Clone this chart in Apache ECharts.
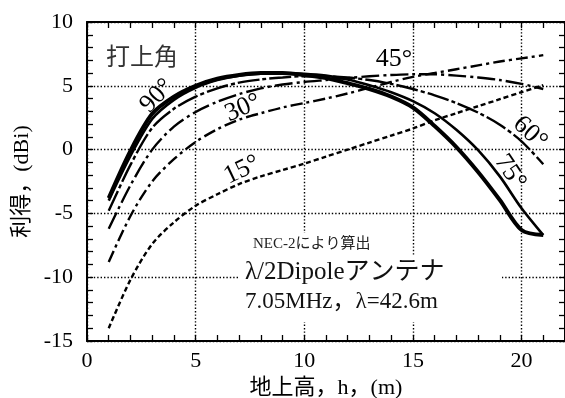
<!DOCTYPE html>
<html>
<head>
<meta charset="utf-8">
<script src="https://cdn.jsdelivr.net/npm/echarts@6/dist/echarts.min.js"></script>
<style>
	html, body { margin: 0; padding: 0; background: #fff; }
	#chart { width: 565px; height: 398px; }
</style>
</head>
<body>
<div id="chart"></div>
<script>
// 地上高 (m)
const heights = [1, 2, 3, 4, 5, 6, 7, 8, 9, 10, 11, 12, 13, 14, 15, 16, 17, 18, 19, 20, 21];
// 打上角ごとの利得 (dBi)
const gain15 = [-14.0, -10.2, -7.4, -5.7, -4.4, -3.5, -2.7, -2.1, -1.6, -1.1, -0.55, 0.0, 0.55, 1.1, 1.65, 2.3, 2.85, 3.4, 3.95, 4.5, 5.05];
const gain30 = [-8.8, -5.2, -2.5, -0.75, 0.6, 1.6, 2.35, 2.85, 3.3, 3.65, 4.0, 4.4, 4.85, 5.3, 5.7, 6.0, 6.3, 6.6, 6.9, 7.15, 7.4];
const gain45 = [-6.2, -2.8, 0.0, 1.8, 2.95, 3.75, 4.35, 4.8, 5.1, 5.3, 5.45, 5.6, 5.75, 5.85, 5.9, 5.9, 5.8, 5.65, 5.45, 5.15, 4.75];
const gain60 = [-4.8, -1.2, 1.7, 3.2, 4.15, 4.8, 5.25, 5.5, 5.65, 5.75, 5.75, 5.65, 5.45, 5.15, 4.75, 4.25, 3.65, 2.9, 1.95, 0.65, -1.15];
const gain75 = [-4.0, -0.5, 2.4, 3.9, 4.85, 5.45, 5.8, 5.95, 6.0, 5.95, 5.8, 5.5, 5.05, 4.5, 3.8, 2.85, 1.55, -0.05, -2.1, -4.6, -6.7];
const gain90 = [-3.8, -0.1, 2.8, 4.15, 5.0, 5.55, 5.85, 6.0, 6.0, 5.85, 5.6, 5.2, 4.75, 4.15, 3.3, 1.85, 0.2, -1.75, -3.95, -6.3, -6.7];

const xTickLabels = [0, 5, 10, 15, 20];
const yTickLabels = [-15, -10, -5, 0, 5, 10];

const serif = "'Liberation Serif', 'Noto Sans CJK JP', serif";

function pairs(ys) {
	return heights.map((h, i) => [h, ys[i]]);
}

function makeLine(name, ys, width, dash) {
	return {
		name: name,
		type: 'line',
		xAxisIndex: 0,
		yAxisIndex: 0,
		smooth: 0.3,
		symbol: 'none',
		lineStyle: { color: '#000', width: width, type: dash },
		data: pairs(ys)
	};
}

function initChart(){
	let myChart = echarts.init(document.getElementById('chart'));

	let tick = { show: true, inside: true, length: 6, lineStyle: { color: '#000', width: 1.3 } };
	let dotted = { show: true, lineStyle: { color: '#000', width: 1.4, type: [1.4, 2] } };

	let option = {
		animation: false,
		grid: { left: 87, right: 0, top: 22, bottom: 57, outerBoundsMode: 'none' },
		xAxis: [
			{
				// 目盛り数字と軸線 (1m刻みの目盛り)
				type: 'value', min: 0, max: 22, interval: 1, position: 'bottom',
				name: '地上高，h，(m)', nameLocation: 'middle', nameGap: 33,
				nameTextStyle: { fontFamily: serif, fontSize: 22, color: '#000' },
				axisLine: { onZero: false, lineStyle: { color: '#000', width: 2 } },
				axisTick: tick,
				axisLabel: {
					margin: 9, fontFamily: serif, fontSize: 22, color: '#000',
					formatter: v => xTickLabels.indexOf(v) >= 0 ? String(v) : ''
				},
				splitLine: { show: false }
			},
			{
				// 上側の軸
				type: 'value', min: 0, max: 22, interval: 1, position: 'top',
				axisLine: { onZero: false, lineStyle: { color: '#000', width: 2 } },
				axisTick: tick,
				axisLabel: { show: false },
				splitLine: { show: false }
			},
			{
				// 5m毎の点線
				type: 'value', min: 0, max: 22, interval: 5, position: 'bottom',
				axisLine: { show: false, onZero: false },
				axisTick: { show: false },
				axisLabel: { show: false },
				splitLine: dotted
			}
		],
		yAxis: [
			{
				type: 'value', min: -15, max: 10, interval: 5, position: 'left',
				name: '利得，(dBi)', nameLocation: 'middle', nameGap: 53, nameRotate: 90,
				nameTextStyle: { fontFamily: serif, fontSize: 22, color: '#000' },
				axisLine: { onZero: false, lineStyle: { color: '#000', width: 2 } },
				axisTick: tick,
				minorTick: { show: true, splitNumber: 5, length: 6, lineStyle: { color: '#000', width: 1.3 } },
				axisLabel: {
					margin: 14, fontFamily: serif, fontSize: 22, color: '#000',
					formatter: v => yTickLabels.indexOf(v) >= 0 ? String(v) : ''
				},
				splitLine: dotted
			},
			{
				type: 'value', min: -15, max: 10, interval: 5, position: 'right',
				axisLine: { onZero: false, lineStyle: { color: '#000', width: 2 } },
				axisTick: tick,
				minorTick: { show: true, splitNumber: 5, length: 6, lineStyle: { color: '#000', width: 1.3 } },
				axisLabel: { show: false },
				splitLine: { show: false }
			}
		],
		graphic: [
			{ type: 'rect', z: 1, shape: { x: 250, y: 233, width: 156, height: 23 }, style: { fill: '#fff' } },
			{ type: 'rect', z: 1, shape: { x: 240, y: 256, width: 262, height: 66 }, style: { fill: '#fff' } },
			{ type: 'text', z: 3, left: 106, top: 44, style: { text: '打上角', font: "24px 'Noto Sans CJK JP'", fill: '#333' } },
			{ type: 'text', z: 3, left: 253, top: 237, style: { text: 'NEC-2により算出', font: "15px " + serif, fill: '#222' } },
			{ type: 'text', z: 3, left: 245, top: 260, style: { text: 'λ/2Dipoleアンテナ', font: "25px " + serif, fill: '#111' } },
			{ type: 'text', z: 3, left: 245, top: 290, style: { text: '7.05MHz，λ=42.6m', font: "23px " + serif, fill: '#111' } },
			{ type: 'text', z: 3, x: 157, y: 96, rotation: 0.8, style: { text: '90°', font: "26px " + serif, fill: '#000', align: 'center', verticalAlign: 'middle' } },
			{ type: 'text', z: 3, x: 243, y: 108, rotation: 0.4, style: { text: '30°', font: "26px " + serif, fill: '#000', align: 'center', verticalAlign: 'middle' } },
			{ type: 'text', z: 3, x: 242, y: 170, rotation: 0.45, style: { text: '15°', font: "26px " + serif, fill: '#000', align: 'center', verticalAlign: 'middle' } },
			{ type: 'text', z: 3, x: 394, y: 59, rotation: 0, style: { text: '45°', font: "26px " + serif, fill: '#000', align: 'center', verticalAlign: 'middle' } },
			{ type: 'text', z: 3, x: 530, y: 133, rotation: -0.75, style: { text: '60°', font: "26px " + serif, fill: '#000', align: 'center', verticalAlign: 'middle' } },
			{ type: 'text', z: 3, x: 510, y: 172, rotation: -0.98, style: { text: '75°', font: "26px " + serif, fill: '#000', align: 'center', verticalAlign: 'middle' } }
		],
		series: [
			makeLine('15°', gain15, 2.4, [5, 3]),
			makeLine('30°', gain30, 2.4, [12, 4, 3, 4]),
			makeLine('45°', gain45, 2.4, [18, 4, 3, 4]),
			makeLine('60°', gain60, 2.4, [22, 3, 4, 3]),
			makeLine('75°', gain75, 2.6, 'solid'),
			makeLine('90°', gain90, 4, 'solid')
		]
	};

	myChart.setOption(option);
	return myChart;
}

initChart();
</script>
</body>
</html>
